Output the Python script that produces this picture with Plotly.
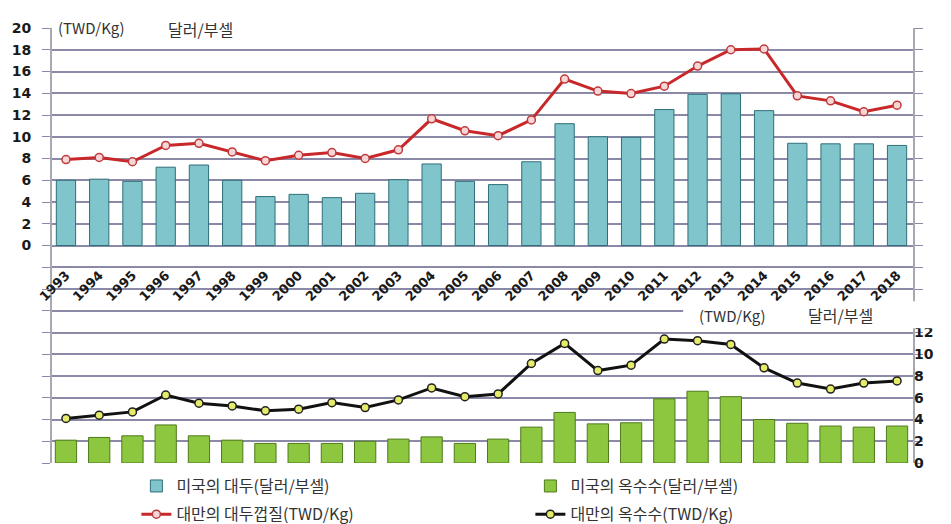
import plotly.graph_objects as go

years = list(range(1993, 2019))

# top panel (left axis)
us_soybean = [6.0, 6.1, 5.9, 7.2, 7.4, 6.0, 4.5, 4.7, 4.4, 4.8, 6.05, 7.5, 5.9, 5.6, 7.7,
              11.2, 10.0, 9.95, 12.5, 13.9, 13.95, 12.4, 9.4, 9.35, 9.35, 9.2]
tw_soy_hull = [7.9, 8.1, 7.7, 9.2, 9.4, 8.6, 7.8, 8.3, 8.55, 8.0, 8.8, 11.65, 10.55, 10.1, 11.55,
               15.3, 14.2, 13.97, 14.65, 16.5, 18.0, 18.07, 13.76, 13.3, 12.3, 12.9]

# bottom panel (right axis)
us_corn = [2.1, 2.35, 2.5, 3.5, 2.5, 2.1, 1.8, 1.8, 1.8, 2.0, 2.2, 2.4, 1.8, 2.2, 3.3,
           4.65, 3.6, 3.7, 5.9, 6.6, 6.1, 4.0, 3.65, 3.4, 3.3, 3.4]
tw_corn = [4.1, 4.4, 4.7, 6.25, 5.5, 5.25, 4.8, 4.95, 5.55, 5.1, 5.8, 6.9, 6.1, 6.35, 9.15,
           11.0, 8.5, 9.0, 11.4, 11.25, 10.9, 8.75, 7.35, 6.8, 7.35, 7.55]

names = ["미국의 대두(달러/부셀)", "미국의 옥수수(달러/부셀)",
         "대만의 대두껍질(TWD/Kg)", "대만의 옥수수(TWD/Kg)"]

left_ticks = list(range(-20, 21, 2))
left_text = [str(v) if v >= 0 else "" for v in left_ticks]
right_ticks = list(range(0, 13, 2))

grid = "#8a8aa8"
kr = "Noto Sans CJK KR"

fig = go.Figure()
fig.add_trace(go.Bar(x=years, y=us_soybean, name=names[0], width=0.58,
                     marker=dict(color="#80c4cc", line=dict(color="#2f6f78", width=1)),
                     legend="legend"))
fig.add_trace(go.Bar(x=years, y=us_corn, name=names[1], width=0.64, yaxis="y2",
                     marker=dict(color="#8dc63f", line=dict(color="#4f7a1c", width=1)),
                     legend="legend"))
fig.add_trace(go.Scatter(x=years, y=tw_soy_hull, name=names[2], mode="lines+markers",
                         line=dict(color="#c8282a", width=3),
                         marker=dict(size=8, color="#f6d6d6", line=dict(color="#c0393b", width=1.5)),
                         legend="legend2"))
fig.add_trace(go.Scatter(x=years, y=tw_corn, name=names[3], mode="lines+markers", yaxis="y2",
                         line=dict(color="#111111", width=3),
                         marker=dict(size=8, color="#e4ec6a", line=dict(color="#222222", width=1.5)),
                         legend="legend2"))

# page body has an 8px margin, so the figure is sized to fit the window
fig.update_layout(
    width=943, height=516,
    margin=dict(l=44, r=38, t=20, b=61, autoexpand=False),
    paper_bgcolor="white", plot_bgcolor="white",
    barmode="overlay",
    xaxis=dict(range=[1992.58, 2018.48], tickvals=years, tickangle=-45,
               anchor="free", position=0.457, showline=False, showgrid=False, ticks="",
               tickfont=dict(family="DejaVu Sans", size=13, color="#1a1a1a", weight="bold")),
    yaxis=dict(range=[-20, 20], tickvals=left_ticks, ticktext=left_text,
               showgrid=True, gridcolor=grid, gridwidth=1.5, zeroline=False,
               showline=True, linecolor="#a8a8b0", linewidth=2, mirror="ticks",
               ticks="outside", ticklen=8, tickcolor=grid, ticklabelstandoff=8,
               tickfont=dict(family="DejaVu Sans", size=14, color="#1a1a1a", weight="bold")),
    yaxis2=dict(range=[0, 40], overlaying="y", side="right", tickvals=right_ticks,
                showgrid=False, zeroline=False, showline=False, ticks="",
                tickfont=dict(family="DejaVu Sans", size=14, color="#1a1a1a", weight="bold")),
    legend=dict(orientation="h", x=0.098, y=-0.053, yanchor="middle", xanchor="left",
                entrywidth=349, font=dict(family=kr, size=16, color="#333333")),
    legend2=dict(orientation="h", x=0.098, y=-0.118, yanchor="middle", xanchor="left",
                 entrywidth=349, font=dict(family=kr, size=16, color="#333333")),
    shapes=[dict(type="rect", xref="paper", yref="paper", x0=0.733, x1=1.03, y0=0.31, y1=0.372,
                 fillcolor="white", line=dict(width=0), layer="above")],
    annotations=[
        dict(text="(TWD/Kg)", xref="paper", yref="paper", x=0.046, y=1.03, xanchor="center",
             showarrow=False, font=dict(family=kr, size=15, color="#333333")),
        dict(text="달러/부셀", xref="paper", yref="paper", x=0.172, y=1.03, xanchor="center",
             showarrow=False, font=dict(family=kr, size=16, color="#333333")),
        dict(text="(TWD/Kg)", xref="paper", yref="paper", x=0.79, y=0.34, xanchor="center",
             showarrow=False, font=dict(family=kr, size=15, color="#333333")),
        dict(text="달러/부셀", xref="paper", yref="paper", x=0.916, y=0.34, xanchor="center",
             showarrow=False, font=dict(family=kr, size=16, color="#333333")),
    ],
)

fig.write_html("out.html")
